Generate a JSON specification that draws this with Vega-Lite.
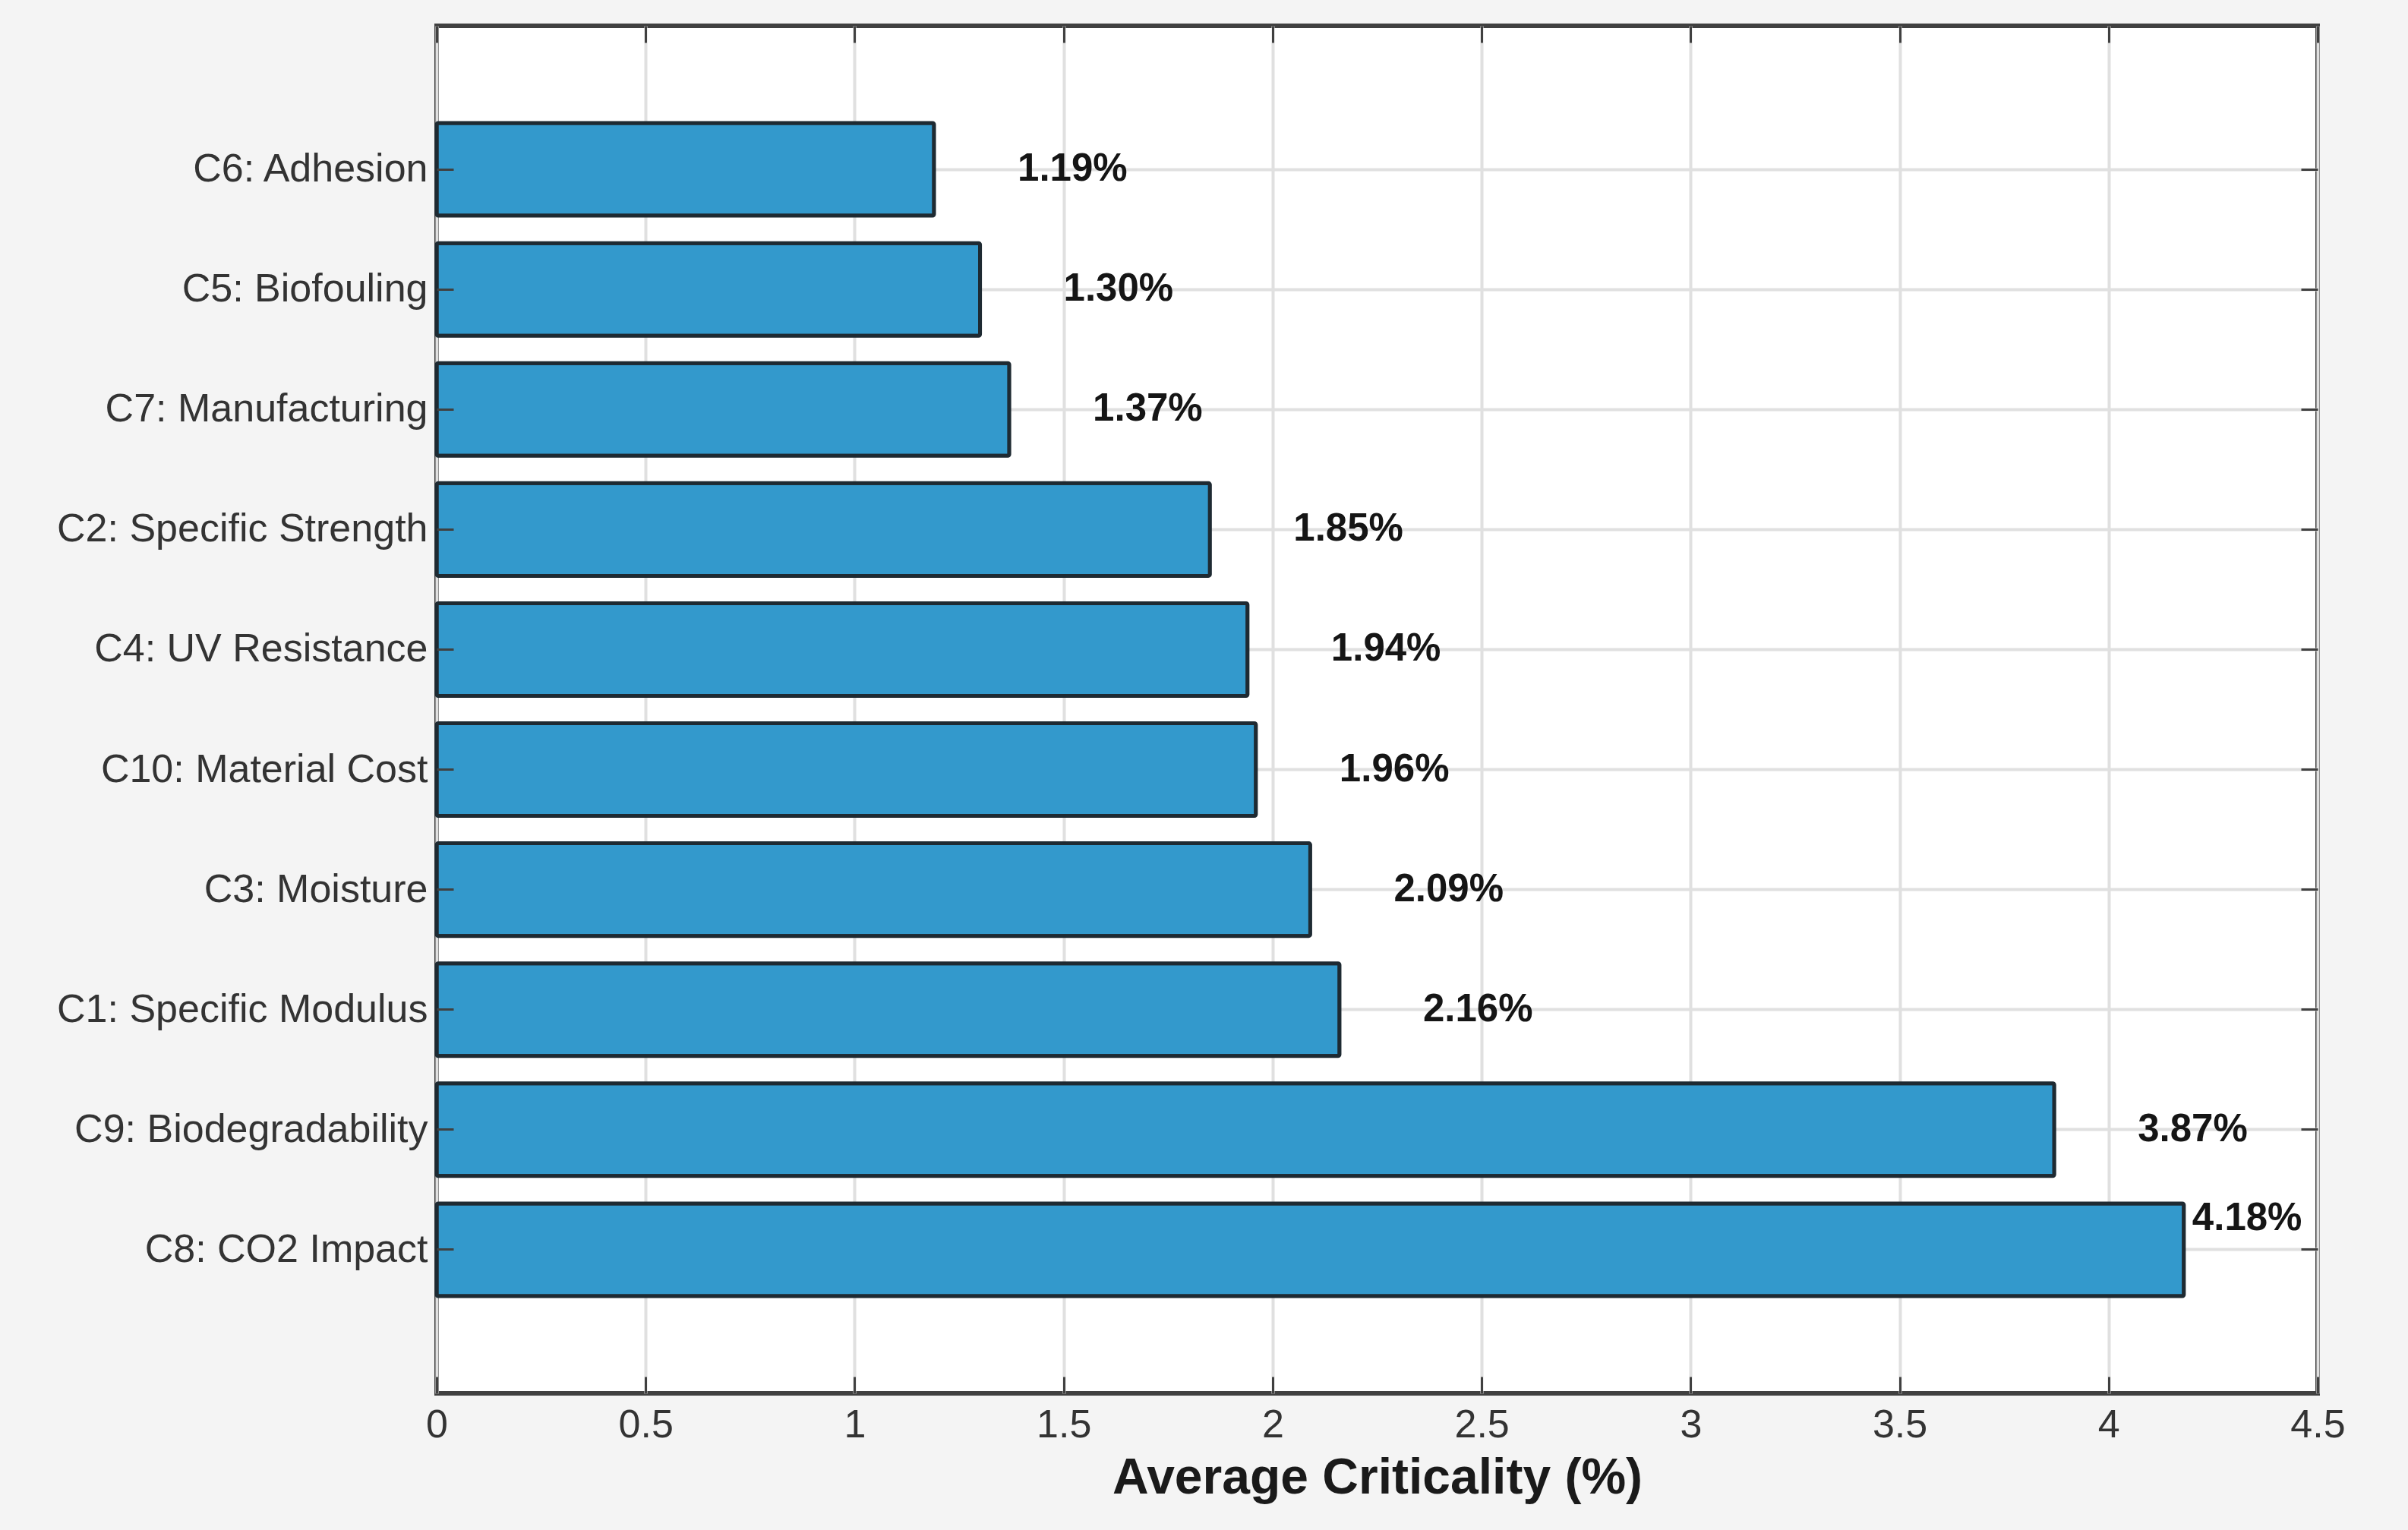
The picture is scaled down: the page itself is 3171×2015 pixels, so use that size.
{
  "$schema": "https://vega.github.io/schema/vega-lite/v6.json",
  "autosize": "none",
  "width": 2477,
  "height": 1801,
  "padding": {"left": 575, "top": 34, "right": 119, "bottom": 180},
  "background": "#f4f4f4",
  "config": {
    "view": {"fill": "white", "stroke": "#404040", "strokeWidth": 6},
    "font": "Liberation Sans"
  },
  "data": {
    "values": [
      {"criterion": "C6: Adhesion", "value": 1.19, "label": "1.19%"},
      {"criterion": "C5: Biofouling", "value": 1.30, "label": "1.30%"},
      {"criterion": "C7: Manufacturing", "value": 1.37, "label": "1.37%"},
      {"criterion": "C2: Specific Strength", "value": 1.85, "label": "1.85%"},
      {"criterion": "C4: UV Resistance", "value": 1.94, "label": "1.94%"},
      {"criterion": "C10: Material Cost", "value": 1.96, "label": "1.96%"},
      {"criterion": "C3: Moisture", "value": 2.09, "label": "2.09%"},
      {"criterion": "C1: Specific Modulus", "value": 2.16, "label": "2.16%"},
      {"criterion": "C9: Biodegradability", "value": 3.87, "label": "3.87%"},
      {"criterion": "C8: CO2 Impact", "value": 4.18, "label": "4.18%"}
    ]
  },
  "resolve": {"axis": {"x": "independent", "y": "independent"}},
  "layer": [
    {
      "mark": {"type": "bar", "fill": "#3399cc", "stroke": "#1e2a32", "strokeWidth": 5, "cornerRadius": 2},
      "encoding": {
        "x": {
          "field": "value", "type": "quantitative",
          "scale": {"domain": [0, 4.5], "nice": false, "zero": true},
          "axis": {
            "orient": "bottom", "values": [0, 0.5, 1, 1.5, 2, 2.5, 3, 3.5, 4, 4.5], "format": "~g",
            "title": "Average Criticality (%)", "titleFontSize": 66, "titleFontWeight": "bold", "titleColor": "#1a1a1a", "titlePadding": 12,
            "labelFontSize": 52, "labelColor": "#333333", "labelPadding": 16, "labelFlush": false,
            "ticks": false, "domain": false, "grid": true, "gridColor": "#e0e0e0", "gridWidth": 4
          }
        },
        "y": {
          "field": "criterion", "type": "nominal", "sort": null,
          "scale": {"paddingInner": 0.228, "paddingOuter": 0.81},
          "axis": {
            "orient": "left", "title": null, "labelFontSize": 52, "labelColor": "#333333", "labelPadding": 12, "labelLimit": 0,
            "ticks": false, "domain": false, "grid": true, "gridColor": "#e0e0e0", "gridWidth": 4
          }
        }
      }
    },
    {
      "transform": [{"filter": "datum.criterion != 'C8: CO2 Impact'"}],
      "mark": {"type": "text", "align": "left", "baseline": "middle", "dx": 110, "fontSize": 51, "fontWeight": "bold", "color": "#151515"},
      "encoding": {
        "x": {
          "field": "value", "type": "quantitative",
          "scale": {"domain": [0, 4.5], "nice": false, "zero": true},
          "axis": {"orient": "bottom", "values": [0, 0.5, 1, 1.5, 2, 2.5, 3, 3.5, 4, 4.5], "labels": false, "title": null, "domain": false, "grid": false, "ticks": true, "tickSize": -22, "tickWidth": 3, "tickColor": "#404040", "zindex": 1}
        },
        "y": {
          "field": "criterion", "type": "nominal", "sort": null,
          "axis": {"orient": "left", "labels": false, "title": null, "domain": false, "grid": false, "ticks": true, "tickSize": -22, "tickWidth": 3, "tickColor": "#404040", "zindex": 1}
        },
        "text": {"field": "label"}
      }
    },
    {
      "transform": [{"filter": "datum.criterion == 'C8: CO2 Impact'"}],
      "mark": {"type": "text", "align": "left", "baseline": "middle", "dx": 11, "dy": -41, "fontSize": 51, "fontWeight": "bold", "color": "#151515"},
      "encoding": {
        "x": {
          "field": "value", "type": "quantitative",
          "scale": {"domain": [0, 4.5], "nice": false, "zero": true},
          "axis": {"orient": "top", "values": [0, 0.5, 1, 1.5, 2, 2.5, 3, 3.5, 4, 4.5], "labels": false, "title": null, "domain": false, "grid": false, "ticks": true, "tickSize": -22, "tickWidth": 3, "tickColor": "#404040", "zindex": 1}
        },
        "y": {
          "field": "criterion", "type": "nominal", "sort": null,
          "axis": {"orient": "right", "labels": false, "title": null, "domain": false, "grid": false, "ticks": true, "tickSize": -22, "tickWidth": 3, "tickColor": "#404040", "zindex": 1}
        },
        "text": {"field": "label"}
      }
    }
  ]
}
